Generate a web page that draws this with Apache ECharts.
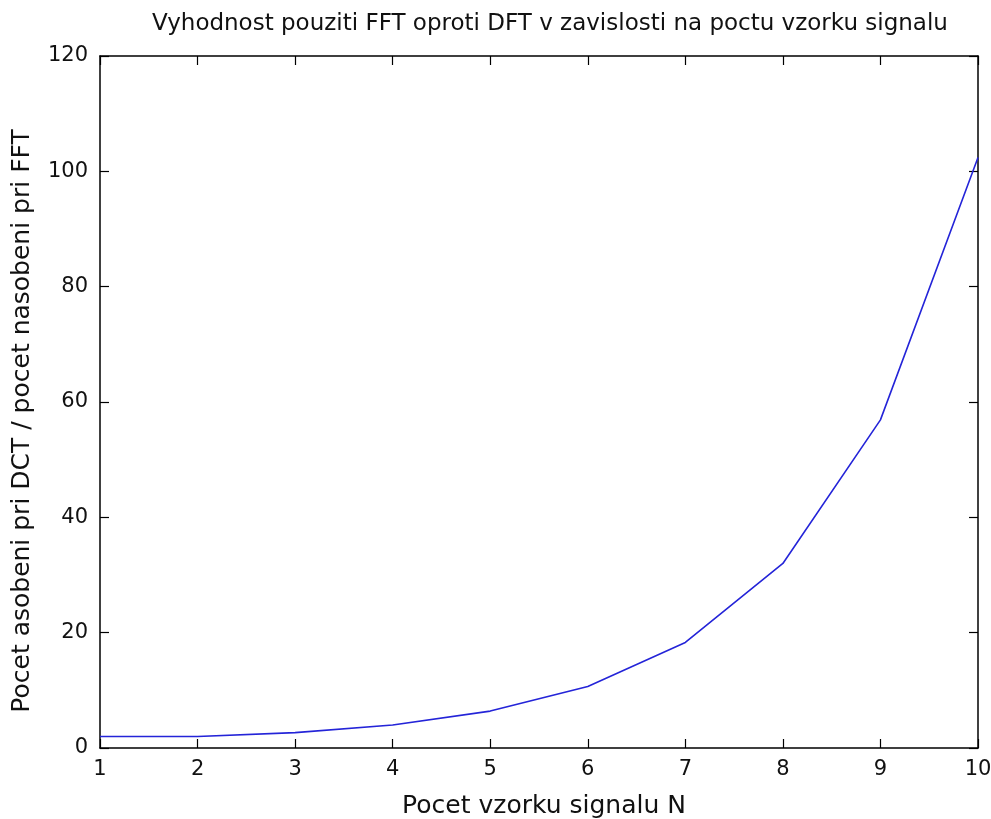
<!DOCTYPE html>
<html><head><meta charset="utf-8">
<script src="https://cdn.jsdelivr.net/npm/echarts@6/dist/echarts.min.js"></script>
<style>html,body{margin:0;padding:0;background:#fff}#c{width:991px;height:819px}</style>
</head><body><div id="c"></div>
<script>
const xValues = [1, 2, 3, 4, 5, 6, 7, 8, 9, 10];
const yValues = [2, 2, 2.67, 4, 6.4, 10.67, 18.3, 32, 56.9, 102.4];
const titleText = 'Vyhodnost pouziti FFT oproti DFT v zavislosti na poctu vzorku signalu';
const xName = 'Pocet vzorku signalu N';
const yName = 'Pocet asobeni pri DCT / pocet nasobeni pri FFT';

const font = 'DejaVu Sans, sans-serif';
const chart = echarts.init(document.getElementById('c'));
const axisLine = {show: true, onZero: false, lineStyle: {color: '#000', width: 1.5}};
const tick = {show: true, inside: true, length: 9, lineStyle: {color: '#000', width: 1.2}};
chart.setOption({
  animation: false,
  backgroundColor: '#fff',
  title: {text: titleText, left: 545, top: 8, textAlign: 'center',
    textStyle: {fontFamily: font, fontSize: 23, fontWeight: 'normal', color: '#111'}},
  grid: {left: 100, right: 13, top: 56, bottom: 71, show: false, containLabel: false, outerBoundsMode: 'none'},
  xAxis: [{
    type: 'value', min: 1, max: 10, interval: 1, position: 'bottom',
    name: xName, nameLocation: 'middle', nameGap: 46,
    nameTextStyle: {fontFamily: font, fontSize: 25, color: '#111', padding: [0, 0, 0, 10]},
    axisLine: axisLine, axisTick: tick, splitLine: {show: false},
    axisLabel: {fontFamily: font, fontSize: 21, color: '#111', margin: 11}
  }, {
    type: 'value', min: 1, max: 10, interval: 1, position: 'top',
    axisLine: axisLine, axisTick: tick, splitLine: {show: false},
    axisLabel: {show: false}
  }],
  yAxis: [{
    type: 'value', min: 0, max: 120, interval: 20, position: 'left',
    name: yName, nameLocation: 'middle', nameGap: 65,
    nameTextStyle: {fontFamily: font, fontSize: 25, color: '#111', padding: [0, 38, 0, 0]},
    axisLine: axisLine, axisTick: tick, splitLine: {show: false},
    axisLabel: {fontFamily: font, fontSize: 21, color: '#111', margin: 12}
  }, {
    type: 'value', min: 0, max: 120, interval: 20, position: 'right',
    axisLine: axisLine, axisTick: tick, splitLine: {show: false},
    axisLabel: {show: false}
  }],
  series: [{
    type: 'line', data: xValues.map((x, i) => [x, yValues[i]]),
    showSymbol: false, lineStyle: {color: '#2424d8', width: 1.6}
  }]
});
</script></body></html>
